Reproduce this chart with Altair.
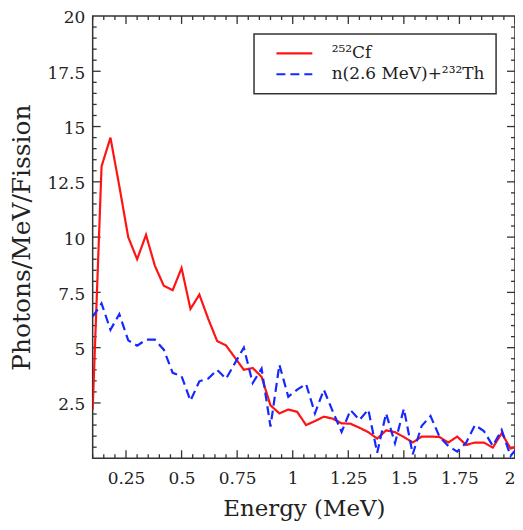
import altair as alt
import pandas as pd

# ---- data ----
energy = [0.10, 0.14, 0.18, 0.22, 0.26, 0.30, 0.34, 0.38, 0.42, 0.46,
          0.50, 0.54, 0.58, 0.62, 0.66, 0.70, 0.74, 0.78, 0.82, 0.86,
          0.90, 0.94, 0.98, 1.02, 1.06, 1.10, 1.14, 1.18, 1.22, 1.26,
          1.30, 1.34, 1.38, 1.42, 1.46, 1.50, 1.54, 1.58, 1.62, 1.66,
          1.70, 1.74, 1.78, 1.82, 1.86, 1.90, 1.94, 1.98, 2.02]
cf252 = [2.2, 13.2, 14.5, 12.3, 10.0, 9.0, 10.1, 8.7, 7.8, 7.6,
         8.6, 6.75, 7.4, 6.3, 5.3, 5.1, 4.55, 4.0, 4.08, 3.68,
         2.39, 2.03, 2.2, 2.1, 1.5, 1.68, 1.88, 1.79, 1.58, 1.56,
         1.38, 1.18, 0.89, 1.26, 1.18, 0.96, 0.71, 0.98, 0.98, 0.96,
         0.71, 0.98, 0.6, 0.71, 0.71, 0.48, 1.13, 0.44, 0.55]
th232 = [6.4, 7.0, 5.81, 6.52, 5.33, 5.09, 5.36, 5.36, 4.91, 3.86,
         3.71, 2.6, 3.48, 3.6, 4.0, 3.59, 4.3, 5.0, 3.4, 4.05,
         1.43, 4.23, 2.78, 3.1, 3.36, 2.03, 3.1, 2.12, 1.19, 2.18,
         1.73, 2.2, 0.25, 2.03, 0.68, 2.24, 0.18, 1.46, 1.91, 0.98,
         0.55, 0.3, 0.7, 1.5, 1.23, 0.56, 1.28, 0.1, 0.6]
series_names = ["²⁵²Cf", "n(2.6 MeV)+²³²Th"]
series_colors = ["#ff1414", "#1428ff"]

x_major = [0.25, 0.5, 0.75, 1.0, 1.25, 1.5, 1.75, 2.0]
x_minor = [0.1, 0.15, 0.2, 0.3, 0.35, 0.4, 0.45, 0.55, 0.6, 0.65, 0.7,
           0.8, 0.85, 0.9, 0.95, 1.05, 1.1, 1.15, 1.2, 1.3, 1.35, 1.4,
           1.45, 1.55, 1.6, 1.65, 1.7, 1.8, 1.85, 1.9, 1.95]
y_major = [2.5, 5, 7.5, 10, 12.5, 15, 17.5]
y_minor = [0.5, 1, 1.5, 2, 3, 3.5, 4, 4.5, 5.5, 6, 6.5, 7, 8, 8.5, 9, 9.5,
           10.5, 11, 11.5, 12, 13, 13.5, 14, 14.5, 15.5, 16, 16.5, 17,
           18, 18.5, 19, 19.5]
y_labels = [2.5, 5, 7.5, 10, 12.5, 15, 17.5, 20]

W, H = 424, 444
FONT = "DejaVu Serif"
AX = "#333333"
TXT = "#222222"

df = pd.DataFrame({
    "E": energy * 2,
    "v": cf252 + th232,
    "s": [series_names[0]] * len(energy) + [series_names[1]] * len(energy),
})

xs = alt.Scale(domain=[0.1, 2.0], nice=False, zero=False)
ys = alt.Scale(domain=[0, 20], nice=False, zero=False)

lines = alt.Chart(df).mark_line(strokeWidth=2.2, clip=True).encode(
    x=alt.X("E:Q", scale=xs,
            axis=alt.Axis(values=x_major, labelExpr="'' + datum.value",
                          title="Energy (MeV)",
                          domain=False, ticks=False, grid=False,
                          labelFont=FONT, labelFontSize=17, labelColor=TXT,
                          labelPadding=12, titleFont=FONT, titleFontSize=23,
                          titleFontWeight="normal", titleColor=TXT,
                          titlePadding=11)),
    y=alt.Y("v:Q", scale=ys,
            axis=alt.Axis(values=y_labels, labelExpr="'' + datum.value",
                          title="Photons/MeV/Fission",
                          domain=False, ticks=False, grid=False,
                          labelFont=FONT, labelFontSize=17, labelColor=TXT,
                          labelPadding=8, labelOffset=2,
                          titleFont=FONT, titleFontSize=25,
                          titleFontWeight="normal", titleColor=TXT,
                          titlePadding=13)),
    color=alt.Color("s:N", scale=alt.Scale(domain=series_names, range=series_colors),
                    title=None),
    strokeDash=alt.StrokeDash("s:N", scale=alt.Scale(domain=series_names,
                                                       range=[[1, 0], [9, 5]]),
                              title=None),
    order="E:Q",
)

def xticks(vals, length):
    d = pd.DataFrame({"t": vals})
    bot = alt.Chart(d).mark_rule(color=AX, strokeWidth=1.3).encode(
        x=alt.X("t:Q", scale=xs), y=alt.value(H), y2=alt.value(H - length))
    top = alt.Chart(d).mark_rule(color=AX, strokeWidth=1.3).encode(
        x=alt.X("t:Q", scale=xs), y=alt.value(0), y2=alt.value(length))
    return bot + top

def yticks(vals, length):
    d = pd.DataFrame({"t": vals})
    left = alt.Chart(d).mark_rule(color=AX, strokeWidth=1.3).encode(
        y=alt.Y("t:Q", scale=ys), x=alt.value(0), x2=alt.value(length))
    right = alt.Chart(d).mark_rule(color=AX, strokeWidth=1.3).encode(
        y=alt.Y("t:Q", scale=ys), x=alt.value(W), x2=alt.value(W - length))
    return left + right

chart = alt.layer(
    xticks(x_major, 8), xticks(x_minor, 4),
    yticks(y_major, 8), yticks(y_minor, 4),
    lines,
).properties(
    width=W, height=H,
    autosize=alt.AutoSizeParams(type="none"),
    padding={"left": 85, "top": 7, "right": 0, "bottom": 63},
).configure_view(
    stroke=AX, strokeWidth=1.5
).configure_legend(
    orient="none", legendX=162, legendY=18,
    strokeColor=AX, strokeWidth=1.5, fillColor="white", padding=11,
    labelFont=FONT, labelFontSize=17, labelColor=TXT, labelOffset=29,
    symbolType="M-3,0H3", symbolSize=144, symbolStrokeWidth=2.2,
    symbolOffset=21, rowPadding=3, cornerRadius=0,
)

chart.save("out.html", embed_options={"renderer": "svg", "actions": False})
